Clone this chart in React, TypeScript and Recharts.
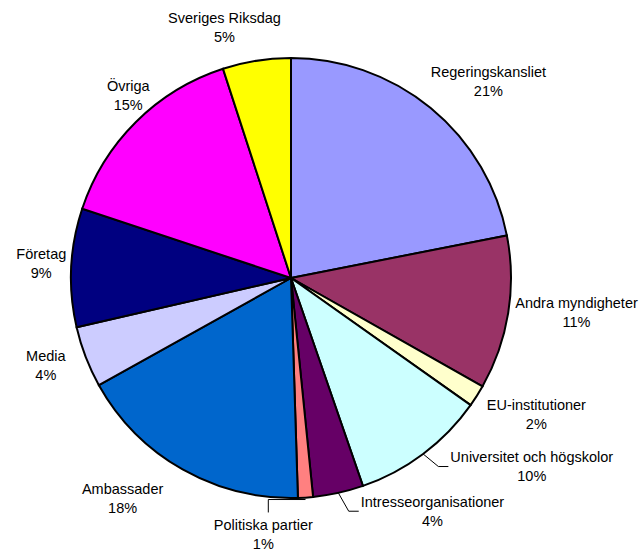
import React from 'react';
import { PieChart, Pie, Cell } from 'recharts';

// slices clockwise from 12 o'clock
const names = [
  'Regeringskansliet',
  'Andra myndigheter',
  'EU-institutioner',
  'Universitet och högskolor',
  'Intresseorganisationer',
  'Politiska partier',
  'Ambassader',
  'Media',
  'Företag',
  'Övriga',
  'Sveriges Riksdag',
];
const shares = [21.9, 11.3, 1.6, 9.9, 3.7, 1.1, 17.4, 4.5, 8.7, 14.9, 5.0];
const shownPct = ['21%', '11%', '2%', '10%', '4%', '1%', '18%', '4%', '9%', '15%', '5%'];
const colors = [
  '#9999FF', '#993366', '#FFFFCC', '#CCFFFF', '#660066', '#FF8080',
  '#0066CC', '#CCCCFF', '#000080', '#FF00FF', '#FFFF00',
];

// label layout tweaks (Excel "best fit" drift), px
const labelNudge: [number, number][] = [
  [16, -6], [0, -5], [11, 4], [55, -9], [77, -8], [-46, 10],
  [-36, 6], [-14, -1], [3, -3], [13, -7], [-22, -7],
];
const withLeader = [3, 4, 5];

const FONT = '"Liberation Sans", Arial, sans-serif';
const FONT_SIZE = 14.5;
const LINE_GAP = 19;

let ctx: CanvasRenderingContext2D | null = null;
const textWidth = (s: string) => {
  if (!ctx) ctx = document.createElement('canvas').getContext('2d');
  if (!ctx) return s.length * 7.3;
  ctx.font = `${FONT_SIZE}px ${FONT}`;
  return ctx.measureText(s).width;
};

const data = names.map((name, i) => ({ name, value: shares[i] }));

const renderLabel = (props: any) => {
  const { cx, cy, midAngle, outerRadius, index } = props;
  const rad = (-midAngle * Math.PI) / 180;
  const ux = Math.cos(rad);
  const uy = Math.sin(rad);
  const w = textWidth(names[index]);
  const h = LINE_GAP * 2;
  const px = cx + (outerRadius + 8) * ux;
  const py = cy + (outerRadius + 8) * uy;
  const [nx, ny] = labelNudge[index];
  const lx = px + (w / 2) * ux + nx;
  const ly = py + (h / 2) * uy + ny;

  let leader = null;
  if (withLeader.includes(index)) {
    const ex = cx + outerRadius * ux;
    const ey = cy + outerRadius * uy;
    let pts: string;
    if (lx - w / 2 > ex) {
      const left = lx - w / 2;
      pts = `${ex},${ey} ${left - 12},${ly} ${left - 2},${ly}`;
    } else {
      const top = ly - h / 2;
      pts = `${ex},${ey + 2} ${lx + 5},${ey + 2} ${lx + 5},${top - 3}`;
    }
    leader = <polyline points={pts} fill="none" stroke="#000" strokeWidth={1} />;
  }

  return (
    <g key={`lbl-${index}`}>
      {leader}
      <text x={lx} y={ly} textAnchor="middle" fontFamily={FONT} fontSize={FONT_SIZE} fill="#000">
        <tspan x={lx} y={ly - LINE_GAP / 2} dominantBaseline="central">{names[index]}</tspan>
        <tspan x={lx} y={ly + LINE_GAP / 2} dominantBaseline="central">{shownPct[index]}</tspan>
      </text>
    </g>
  );
};

export default function App() {
  return (
    <div style={{ position: 'absolute', left: 0, top: 0, width: 642, height: 550, background: '#fff' }}>
      <PieChart width={642} height={550} margin={{ top: 0, right: 0, bottom: 0, left: 0 }}>
        <Pie
          data={data}
          dataKey="value"
          nameKey="name"
          cx={291}
          cy={278}
          outerRadius={220}
          startAngle={90}
          endAngle={-270}
          stroke="#000"
          strokeWidth={2}
          label={renderLabel}
          labelLine={false}
          isAnimationActive={false}
        >
          {data.map((d, i) => (
            <Cell key={d.name} fill={colors[i]} />
          ))}
        </Pie>
      </PieChart>
    </div>
  );
}
